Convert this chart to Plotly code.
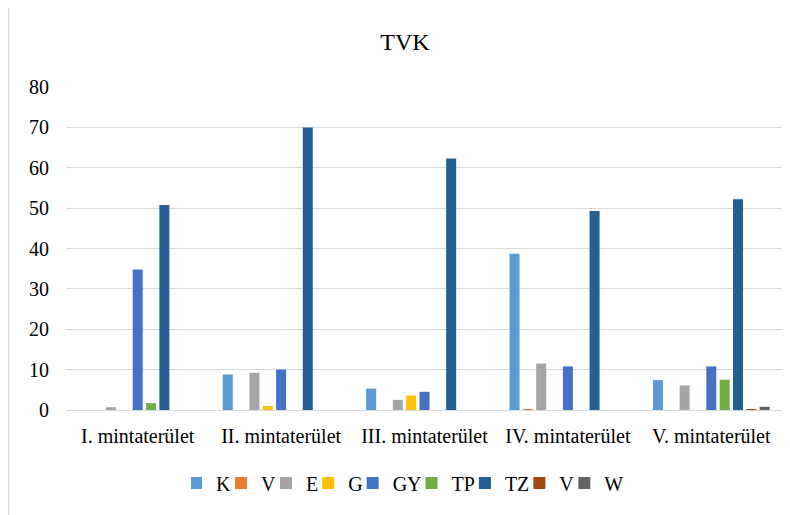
import plotly.graph_objects as go

categories = ["I. mintaterület", "II. mintaterület", "III. mintaterület",
              "IV. mintaterület", "V. mintaterület"]

series_names = ["K", "V", "E", "G", "GY", "TP", "TZ", "V", "W"]
K  = [0.0, 8.8, 5.3, 38.7, 7.4]
V1 = [0.0, 0.0, 0.0, 0.1, 0.0]
E  = [0.7, 9.2, 2.5, 11.5, 6.1]
G  = [0.0, 1.0, 3.6, 0.0, 0.0]
GY = [34.8, 10.0, 4.5, 10.8, 10.8]
TP = [1.7, 0.0, 0.0, 0.0, 7.5]
TZ = [50.8, 70.0, 62.3, 49.3, 52.2]
V2 = [0.0, 0.0, 0.0, 0.0, 0.1]
W  = [0.0, 0.0, 0.0, 0.0, 0.8]
series_values = [K, V1, E, G, GY, TP, TZ, V2, W]
colors = ["#5B9BD5", "#ED7D31", "#A5A5A5", "#FFC000", "#4472C4",
          "#70AD47", "#255E91", "#9E480E", "#636363"]

y_ticks = [0, 10, 20, 30, 40, 50, 60, 70, 80]

font_family = "Liberation Serif, Times New Roman, serif"

fig = go.Figure()
for name, vals, col in zip(series_names, series_values, colors):
    fig.add_trace(go.Bar(x=categories, y=vals, name=name,
                         marker=dict(color=col, line=dict(width=0))))

# page offset (body margin) compensation
OFF = 8
W_PX, H_PX = 790, 515
plot_left, plot_right, plot_top, plot_bottom = 66, 783, 87, 410  # in screenshot px
L = plot_left - OFF
T = plot_top - OFF
pw = plot_right - plot_left
ph = plot_bottom - plot_top
R = W_PX - L - pw
B = H_PX - T - ph

def px_x(x):
    return (x - plot_left) / pw

def px_y(ytop):
    return (plot_bottom - ytop) / ph

fig.update_layout(
    width=W_PX, height=H_PX,
    margin=dict(l=L, r=R, t=T, b=B, autoexpand=False),
    paper_bgcolor="white", plot_bgcolor="white",
    barmode="group", bargap=0.163, bargroupgap=0.25,
    font=dict(family=font_family, size=20, color="#000000"),
    title=dict(text="TVK", x=(405 - OFF) / W_PX, xanchor="center",
               y=1 - (42 - OFF) / H_PX, yanchor="middle",
               font=dict(family=font_family, size=24, color="#000000")),
    xaxis=dict(showgrid=False, showline=True, linecolor="#D9D9D9", linewidth=1,
               ticks="", ticklabelstandoff=8,
               tickfont=dict(family=font_family, size=20, color="#000000")),
    yaxis=dict(range=[0, 80], tickvals=y_ticks, showgrid=True,
               gridcolor="#D9D9D9", gridwidth=1, zeroline=False,
               showline=False, ticks="", ticklabelstandoff=16,
               tickfont=dict(family=font_family, size=20, color="#000000")),
    legend=dict(orientation="h", x=px_x(410), xanchor="center",
                y=px_y(483), yanchor="middle",
                font=dict(family=font_family, size=20, color="#000000"),
                itemwidth=30, indentation=-15, tracegroupgap=0),
    showlegend=True,
)

fig.add_shape(type="line", xref="paper", yref="paper",
              x0=px_x(8.5), x1=px_x(800), y0=px_y(4.5), y1=px_y(4.5),
              line=dict(color="#D9D9D9", width=1.5))
fig.add_shape(type="line", xref="paper", yref="paper",
              x0=px_x(8.5), x1=px_x(8.5), y0=px_y(4.5), y1=px_y(530),
              line=dict(color="#D9D9D9", width=1.5))

fig.write_html("out.html")
